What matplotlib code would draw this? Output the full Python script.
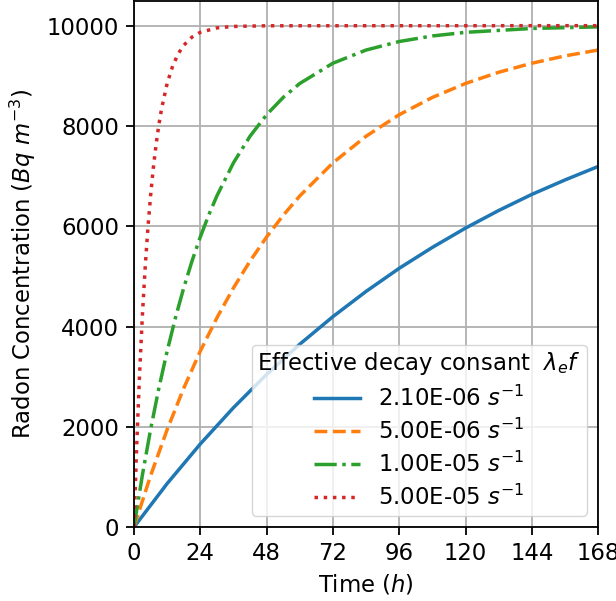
import numpy as np
import matplotlib.pyplot as plt

# values (hours, Bq m^-3)
t_blue = [0, 12, 24, 36, 48, 60, 72, 84, 96, 108, 120, 132, 144, 156, 168]
c_blue = [0, 867, 1657, 2381, 3044, 3647, 4197, 4700, 5161, 5578, 5963, 6314, 6635, 6923, 7192]

t_orange = [0, 6, 12, 18, 24, 30, 36, 42, 48, 54, 60, 72, 84, 96, 108, 120, 132, 144, 156, 168]
c_orange = [0, 1024, 1943, 2768, 3508, 4172, 4769, 5305, 5785, 6217, 6604, 7264, 7795, 8224, 8569,
            8847, 9071, 9251, 9397, 9514]

t_green = [0, 3, 6, 9, 12, 15, 18, 21, 24, 27, 30, 36, 42, 48, 54, 60, 72, 84, 96, 108, 120, 144, 168]
c_green = [0, 1024, 1943, 2768, 3508, 4172, 4769, 5305, 5785, 6217, 6604, 7264, 7795, 8224, 8569,
           8847, 9251, 9514, 9684, 9795, 9867, 9944, 9976]

t_red = [0, 1, 2, 3, 4, 5, 6, 7, 8, 9, 10, 12, 14, 16, 18, 21, 24, 30, 36, 48, 168]
c_red = [0, 1647, 3023, 4173, 5132, 5934, 6604, 7163, 7631, 8021, 8347, 8847, 9195, 9439, 9608,
         9772, 9867, 9955, 9985, 9998, 10000]

labels = ["2.10E-06 $s^{-1}$", "5.00E-06 $s^{-1}$", "1.00E-05 $s^{-1}$", "5.00E-05 $s^{-1}$"]
x_ticks = [0, 24, 48, 72, 96, 120, 144, 168]
y_ticks = [0, 2000, 4000, 6000, 8000, 10000]

fs = 16.4
plt.rcParams['font.size'] = fs

fig = plt.figure(figsize=(6.16, 6.01), dpi=100)
ax = fig.add_axes([0.2175, 0.123, 0.7535, 0.876])

lw = 2.5
ax.plot(t_blue, c_blue, color='tab:blue', linestyle='-', linewidth=lw, label=labels[0])
ax.plot(t_orange, c_orange, color='tab:orange', linestyle='--', linewidth=lw, label=labels[1])
ax.plot(t_green, c_green, color='tab:green', linestyle='-.', linewidth=lw, label=labels[2])
ax.plot(t_red, c_red, color='tab:red', linestyle=':', linewidth=lw, label=labels[3])

ax.set_xlim(0, 168)
ax.set_ylim(0, 10500)
ax.set_xticks(x_ticks)
ax.set_yticks(y_ticks)
ax.grid(True, linewidth=1.3, color='#b0b0b0')
ax.tick_params(width=1.3, length=5.8, pad=5)
for s in ax.spines.values():
    s.set_linewidth(1.3)

ax.set_xlabel("Time ($h$)", labelpad=5)
ax.set_ylabel("Radon Concentration ($Bq\\ m^{-3}$)", labelpad=6)
ax.legend(loc='lower right', title="Effective decay consant  $\\lambda_e f$",
          title_fontsize=fs, labelspacing=0.35, borderpad=0.25)

fig.savefig("out.png", dpi=100)
